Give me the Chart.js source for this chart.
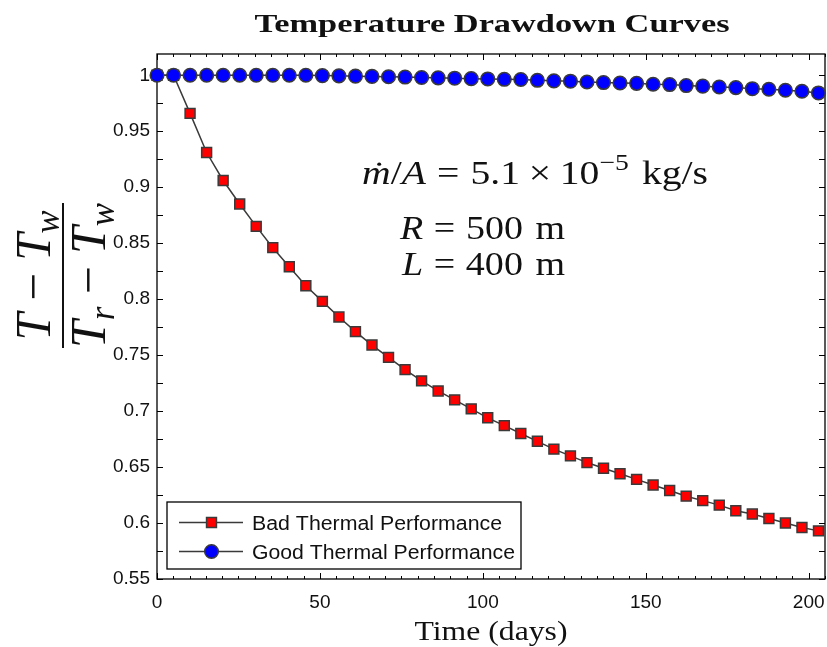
<!DOCTYPE html>
<html>
<head>
<meta charset="utf-8">
<script src="https://cdn.jsdelivr.net/npm/chart.js@4.4.0/dist/chart.umd.min.js"></script>
<style>
  html, body { margin: 0; padding: 0; background: #fff; }
  canvas { display: block; }
</style>
</head>
<body>
<canvas id="grafica" width="827" height="647"></canvas>
<script>
// Datos
const dias = [0, 5.08, 10.15, 15.23, 20.3, 25.38, 30.45, 35.53, 40.6, 45.68,
    50.75, 55.83, 60.9, 65.98, 71.05, 76.13, 81.2, 86.28, 91.35, 96.43,
    101.5, 106.58, 111.65, 116.73, 121.8, 126.88, 131.95, 137.03, 142.1, 147.18,
    152.25, 157.33, 162.4, 167.48, 172.55, 177.63, 182.7, 187.78, 192.85, 197.93, 203];

const malRendimiento = [1, 1, 0.966, 0.931, 0.906, 0.885, 0.865, 0.846, 0.829, 0.812,
    0.798, 0.784, 0.771, 0.759, 0.748, 0.737, 0.727, 0.718, 0.71, 0.702,
    0.694, 0.687, 0.68, 0.673, 0.666, 0.66, 0.654, 0.649, 0.644, 0.639,
    0.634, 0.629, 0.624, 0.62, 0.616, 0.611, 0.608, 0.604, 0.6, 0.596, 0.593];

const buenRendimiento = [1, 1, 1, 1, 1, 1, 1, 1, 1, 1,
    0.9997, 0.9995, 0.9992, 0.999, 0.9987, 0.9984, 0.998, 0.9977, 0.9974, 0.997,
    0.9967, 0.9964, 0.9962, 0.9955, 0.995, 0.9947, 0.994, 0.9935, 0.9931, 0.9928,
    0.992, 0.9917, 0.9908, 0.9903, 0.9895, 0.989, 0.988, 0.9875, 0.9866, 0.9857, 0.9842];

const xTicks = [0, 50, 100, 150, 200];
const yTicks = [0.55, 0.6, 0.65, 0.7, 0.75, 0.8, 0.85, 0.9, 0.95, 1];
const nombresSeries = ["Bad Thermal Performance", "Good Thermal Performance"];
const titulo = "Temperature Drawdown Curves";
const tituloX = "Time (days)";

const SERIF = '"Liberation Serif", "Times New Roman", serif';
const SANS = '"Liberation Sans", Arial, sans-serif';
const GRIS = "#3a3a3a";

// Texto "matematico" por partes
function fuente(p, tam) {
    return `${p.it ? "italic " : ""}${p.bold ? "bold " : ""}${Math.round(tam * (p.esc || 1))}px ${p.fam || SERIF}`;
}

function dibujarPartes(ctx, partes, x, y, tam, ancho, centrado) {
    let total = 0;
    partes.forEach(p => {
        ctx.font = fuente(p, tam);
        p._w = ctx.measureText(p.t).width;
        total += (p.gap || 0) * tam + p._w;
    });
    const f = ancho ? ancho / total : 1;
    ctx.save();
    ctx.translate(x, y);
    ctx.scale(f, 1);
    let cx = centrado ? -total / 2 : 0;
    ctx.textAlign = "left";
    ctx.textBaseline = "alphabetic";
    partes.forEach(p => {
        cx += (p.gap || 0) * tam;
        ctx.font = fuente(p, tam);
        const dy = (p.dy || 0) * tam;
        ctx.fillText(p.t, cx, dy);
        if (p.punto) {
            ctx.beginPath();
            ctx.arc(cx + p._w * 0.6, dy - tam * 0.6, tam * 0.05, 0, 2 * Math.PI);
            ctx.fill();
        }
        cx += p._w;
    });
    ctx.restore();
}

const numerador = [
    { t: "T", it: 1 }, { t: "\u2212", gap: 0.25 }, { t: "T", it: 1, gap: 0.25 },
    { t: "w", it: 1, esc: 0.7, dy: 0.18 }
];
const denominador = [
    { t: "T", it: 1 }, { t: "r", it: 1, esc: 0.7, dy: 0.18 }, { t: "\u2212", gap: 0.25 },
    { t: "T", it: 1, gap: 0.25 }, { t: "w", it: 1, esc: 0.7, dy: 0.18 }
];
const linea1 = [
    { t: "m", it: 1, punto: 1 }, { t: "/" }, { t: "A", it: 1 }, { t: "=", gap: 0.28 },
    { t: "5.1", gap: 0.28 }, { t: "\u00d7", gap: 0.22 }, { t: "10", gap: 0.22 },
    { t: "\u22125", esc: 0.7, dy: -0.42 }, { t: "kg/s", gap: 0.33 }
];
const linea2 = [{ t: "R", it: 1 }, { t: "=", gap: 0.28 }, { t: "500", gap: 0.28 }, { t: "m", gap: 0.33 }];
const linea3 = [{ t: "L", it: 1 }, { t: "=", gap: 0.28 }, { t: "400", gap: 0.28 }, { t: "m", gap: 0.33 }];

// =========================
//   Marco y marcas
// =========================
const pluginMarco = {
    id: "marco",
    beforeDatasetsDraw(chart) {
        const { ctx, chartArea: a, scales } = chart;
        ctx.save();
        ctx.strokeStyle = "#000";
        ctx.lineWidth = 1.3;
        ctx.strokeRect(a.left, a.top, a.right - a.left, a.bottom - a.top);
        ctx.lineWidth = 1;
        ctx.beginPath();
        for (let v = 0; v <= 205; v += 5) {
            const px = Math.round(scales.x.getPixelForValue(v)) + 0.5;
            const l = v % 50 === 0 ? 6 : 3;
            ctx.moveTo(px, a.bottom); ctx.lineTo(px, a.bottom - l);
            ctx.moveTo(px, a.top); ctx.lineTo(px, a.top + l);
        }
        for (let i = 0; i <= 18; i++) {
            const v = 0.55 + i * 0.025;
            const py = Math.round(scales.y.getPixelForValue(v)) + 0.5;
            ctx.moveTo(a.left, py); ctx.lineTo(a.left + 6, py);
            ctx.moveTo(a.right, py); ctx.lineTo(a.right - 6, py);
        }
        ctx.stroke();
        ctx.restore();
    },
    afterDraw(chart) {
        const { ctx } = chart;
        ctx.save();
        ctx.fillStyle = "#111";

        // Titulo
        dibujarPartes(ctx, [{ t: titulo, bold: 1 }], 492, 32, 26, 475, true);

        // Titulo eje x
        dibujarPartes(ctx, [{ t: tituloX }], 491, 640, 27, 153, true);

        // Titulo eje y (fraccion girada)
        ctx.save();
        ctx.translate(63, 275.5);
        ctx.rotate(-Math.PI / 2);
        dibujarPartes(ctx, numerador, 0, -13, 50, 130, true);
        dibujarPartes(ctx, denominador, 0, 42, 50, 145, true);
        ctx.restore();
        ctx.fillRect(62, 203, 2, 145);

        // Anotacion
        dibujarPartes(ctx, linea1, 362, 184, 33, 346);
        dibujarPartes(ctx, linea2, 400, 239, 33, 165);
        dibujarPartes(ctx, linea3, 402, 275, 33, 163);

        // Leyenda
        ctx.fillStyle = "#fff";
        ctx.fillRect(167, 502, 354, 67);
        ctx.strokeStyle = "#000";
        ctx.lineWidth = 1.3;
        ctx.strokeRect(167, 502, 354, 67);
        const filas = [522.5, 551.5];
        const anchos = [250, 263];
        const orden = [1, 0];
        filas.forEach((fy, k) => {
            const ds = chart.data.datasets[orden[k]];
            ctx.strokeStyle = ds.borderColor;
            ctx.lineWidth = ds.borderWidth;
            ctx.beginPath();
            ctx.moveTo(179, fy); ctx.lineTo(243, fy);
            ctx.stroke();
            ctx.fillStyle = ds.pointBackgroundColor;
            ctx.strokeStyle = ds.pointBorderColor;
            ctx.lineWidth = ds.pointBorderWidth;
            Chart.helpers.drawPoint(ctx, {
                pointStyle: ds.pointStyle, radius: ds.pointRadius,
                borderWidth: ds.pointBorderWidth, rotation: 0
            }, 211.5, fy);
            ctx.fillStyle = "#111";
            dibujarPartes(ctx, [{ t: nombresSeries[k], fam: SANS }], 252, fy + 7.5, 20, anchos[k]);
        });
        ctx.restore();
    }
};

const puntos = (ys) => dias.map((d, i) => ({ x: d, y: ys[i] }));

new Chart(document.getElementById("grafica"), {
    type: "scatter",
    data: {
        datasets: [
            {
                label: nombresSeries[1],
                data: puntos(buenRendimiento),
                showLine: true,
                borderColor: GRIS,
                borderWidth: 1.5,
                pointStyle: "circle",
                pointRadius: 6.8,
                pointBackgroundColor: "#0000ff",
                pointBorderColor: GRIS,
                pointBorderWidth: 1.5,
                clip: false,
                order: 1
            },
            {
                label: nombresSeries[0],
                data: puntos(malRendimiento),
                showLine: true,
                borderColor: GRIS,
                borderWidth: 1.5,
                pointStyle: "rect",
                pointRadius: 7,
                pointBackgroundColor: "#ff0000",
                pointBorderColor: GRIS,
                pointBorderWidth: 1.5,
                clip: false,
                order: 2
            }
        ]
    },
    options: {
        responsive: false,
        animation: false,
        devicePixelRatio: 1,
        layout: { autoPadding: false, padding: { top: 54, right: 2, left: 0, bottom: 0 } },
        plugins: { legend: { display: false }, tooltip: { enabled: false } },
        scales: {
            x: {
                type: "linear",
                min: 0,
                max: 205,
                afterBuildTicks: s => { s.ticks = xTicks.map(v => ({ value: v })); },
                afterFit: s => { s.height = 68; s.paddingLeft = 0; s.paddingRight = 0; },
                grid: { display: false, drawTicks: false },
                border: { display: false },
                ticks: {
                    color: "#111",
                    font: { family: SANS, size: 19 },
                    padding: 12,
                    maxRotation: 0,
                    autoSkip: false,
                    callback: v => String(v)
                }
            },
            y: {
                min: 0.55,
                max: 1.019,
                afterBuildTicks: s => { s.ticks = yTicks.map(v => ({ value: v })); },
                afterFit: s => { s.width = 157; s.paddingTop = 0; s.paddingBottom = 0; },
                grid: { display: false, drawTicks: false },
                border: { display: false },
                ticks: {
                    color: "#111",
                    font: { family: SANS, size: 19 },
                    padding: 7,
                    autoSkip: false,
                    callback: v => String(v)
                }
            }
        }
    },
    plugins: [pluginMarco]
});
</script>
</body>
</html>
